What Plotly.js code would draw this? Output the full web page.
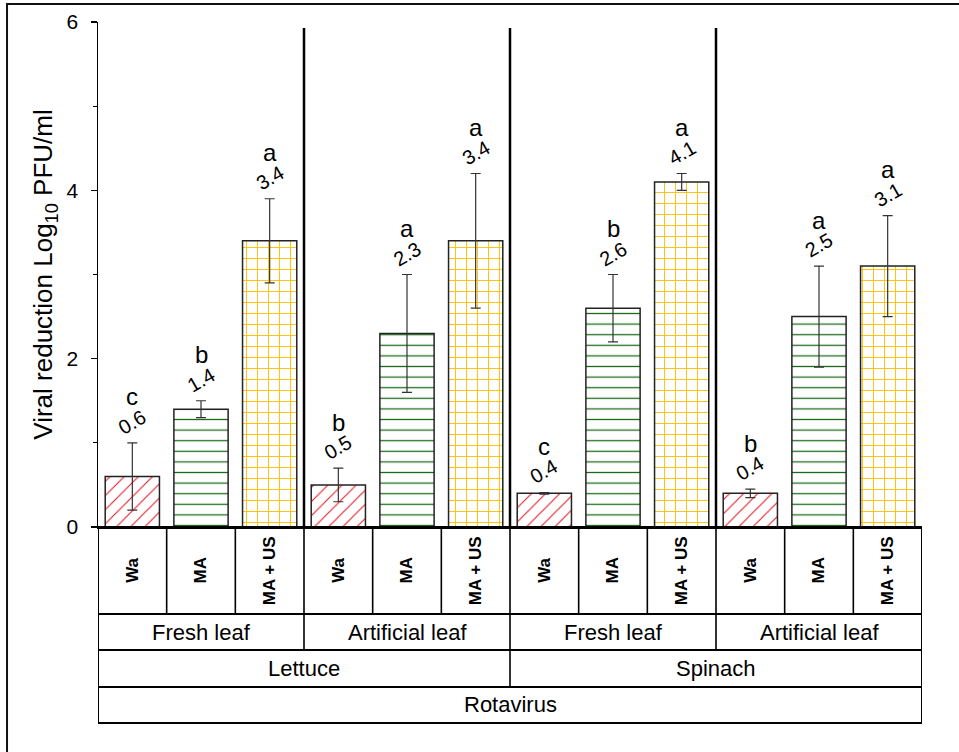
<!DOCTYPE html>
<html>
<head>
<meta charset="utf-8">
<script src="https://cdn.plot.ly/plotly-3.0.1.min.js"></script>
<style>
  html, body { margin: 0; padding: 0; background: #fff; }
  #chart { width: 959px; height: 752px; }
</style>
</head>
<body>
<div id="chart"></div>
<script>
// Viral reduction of rotavirus on lettuce and spinach surfaces by treatment
const treatments = ['Wa', 'MA', 'MA + US'];
const surfaces = ['Fresh leaf', 'Artificial leaf', 'Fresh leaf', 'Artificial leaf'];
const vegetables = ['Lettuce', 'Spinach'];
const virusName = 'Rotavirus';

// one entry per surface group (Lettuce fresh, Lettuce artificial, Spinach fresh, Spinach artificial)
const waMeans  = [0.6, 0.5, 0.4, 0.4];
const waErr    = [0.4, 0.2, 0.01, 0.05];
const maMeans  = [1.4, 2.3, 2.6, 2.5];
const maErr    = [0.1, 0.7, 0.4, 0.6];
const musMeans = [3.4, 3.4, 4.1, 3.1];
const musErr   = [0.5, 0.8, 0.1, 0.6];

const waLetters  = ['c', 'b', 'c', 'b'];
const maLetters  = ['b', 'a', 'b', 'a'];
const musLetters = ['a', 'a', 'a', 'a'];

const yTicks = [0, 2, 4, 6];

const FONT = 'Arial, "Liberation Sans", sans-serif';
const nGroups = surfaces.length;
const nT = treatments.length;

const seriesMeans = [waMeans, maMeans, musMeans];
const seriesErr = [waErr, maErr, musErr];
const seriesLetters = [waLetters, maLetters, musLetters];
const patterns = [
  { shape: '/', fgcolor: '#e3141e', bgcolor: '#ffffff', size: 10, solidity: 0.1 },
  { shape: '-', fgcolor: '#1a6b1a', bgcolor: '#ffffff', size: 10.6, solidity: 0.12 },
  { shape: '+', fgcolor: '#ffbf00', bgcolor: '#ffffff', size: 11, solidity: 0.16 }
];

const traces = [];
const annotations = [];
for (let t = 0; t < nT; t++) {
  const xs = [];
  for (let g = 0; g < nGroups; g++) xs.push(g * nT + t);
  traces.push({
    type: 'bar',
    name: treatments[t],
    x: xs,
    y: seriesMeans[t],
    width: 0.79,
    marker: {
      color: '#ffffff',
      pattern: patterns[t],
      line: { color: '#222222', width: 1.5 }
    },
    error_y: {
      type: 'data',
      array: seriesErr[t],
      visible: true,
      color: '#333333',
      thickness: 1.2,
      width: 5
    },
    hoverinfo: 'x+y'
  });
  for (let g = 0; g < nGroups; g++) {
    const top = seriesMeans[t][g] + seriesErr[t][g];
    annotations.push({
      x: xs[g], y: top, xref: 'x', yref: 'y',
      xanchor: 'center', yanchor: 'middle',
      text: seriesMeans[t][g].toFixed(1),
      showarrow: false, textangle: -30, yshift: 21,
      font: { family: FONT, size: 20, color: '#000' }
    });
    annotations.push({
      x: xs[g], y: top, xref: 'x', yref: 'y',
      xanchor: 'center', yanchor: 'middle',
      text: seriesLetters[t][g],
      showarrow: false, yshift: 46,
      font: { family: FONT, size: 24, color: '#000' }
    });
  }
}

// category table under the plot (row boundaries in paper units)
const rowY = [0, -0.1723, -0.2436, -0.3168, -0.3881];
const shapes = [];
const xMin = -0.5, xMax = nGroups * nT - 0.5;
const line = (x0, y0, x1, y1, w, xref, yref) => shapes.push({
  type: 'line', x0, y0, x1, y1, xref: xref || 'x', yref: yref || 'paper',
  line: { color: '#000', width: w }
});

// horizontal table rules
for (let r = 0; r < rowY.length; r++) line(xMin, rowY[r], xMax, rowY[r], 2);
// outer table sides
line(xMin, 0, xMin, rowY[4], 2);
line(xMax, 0, xMax, rowY[4], 2);
// treatment cells
for (let i = 1; i < nGroups * nT; i++) line(i - 0.5, rowY[0], i - 0.5, rowY[1], 1.6);
// surface cells
for (let g = 1; g < nGroups; g++) line(g * nT - 0.5, rowY[1], g * nT - 0.5, rowY[2], 1.6);
// vegetable cells
for (let v = 1; v < vegetables.length; v++) {
  const xv = v * (nGroups / vegetables.length) * nT - 0.5;
  line(xv, rowY[2], xv, rowY[3], 1.6);
}
// group separators inside the plot
for (let g = 1; g < nGroups; g++) line(g * nT - 0.5, 0, g * nT - 0.5, 5.93, 2.5, 'x', 'y');

// outer frame
shapes.push({
  type: 'rect', xref: 'paper', yref: 'paper',
  x0: -0.1104, x1: 1.08, y0: 1.0356, y1: -0.47,
  line: { color: '#111', width: 2 }, fillcolor: 'rgba(0,0,0,0)'
});

// table labels
const cellText = (x, y, text, size, angle) => annotations.push({
  x, y, xref: 'x', yref: 'paper', xanchor: 'center', yanchor: 'middle',
  text, textangle: angle || 0, showarrow: false,
  font: { family: FONT, size, color: '#000' }
});
for (let g = 0; g < nGroups; g++) {
  for (let t = 0; t < nT; t++) {
    cellText(g * nT + t, (rowY[0] + rowY[1]) / 2, '<b>' + treatments[t] + '</b>', 17, -90);
  }
  cellText(g * nT + (nT - 1) / 2, (rowY[1] + rowY[2]) / 2, surfaces[g], 22);
}
const perVeg = (nGroups / vegetables.length) * nT;
vegetables.forEach((v, i) => {
  cellText(i * perVeg + (perVeg - 1) / 2, (rowY[2] + rowY[3]) / 2, v, 22);
});
cellText((xMin + xMax) / 2, (rowY[3] + rowY[4]) / 2, virusName, 22);

const layout = {
  width: 959, height: 752,
  margin: { l: 98, r: 37, t: 22, b: 225, pad: 0 },
  paper_bgcolor: '#fff', plot_bgcolor: '#fff',
  showlegend: false,
  barmode: 'overlay',
  font: { family: FONT, color: '#000' },
  xaxis: {
    range: [xMin, xMax],
    showticklabels: false, ticks: '', showgrid: false, zeroline: false,
    showline: true, linecolor: '#000', linewidth: 2
  },
  yaxis: {
    range: [0, 6],
    tickvals: yTicks, ticktext: yTicks.map(String),
    ticks: 'outside', ticklen: 6, tickwidth: 1.3, tickcolor: '#000',
    minor: { dtick: 1, ticks: 'outside', ticklen: 4, tickwidth: 1.3, tickcolor: '#000', showgrid: false },
    showline: true, linecolor: '#000', linewidth: 1.5,
    showgrid: false, zeroline: false,
    tickfont: { family: FONT, size: 21, color: '#000' },
    ticklabelstandoff: 8,
    title: {
      text: 'Viral reduction Log<sub>10</sub> PFU/ml',
      font: { family: FONT, size: 26, color: '#000' },
      standoff: 6
    }
  },
  shapes: shapes,
  annotations: annotations
};

Plotly.newPlot('chart', traces, layout, { displayModeBar: false, staticPlot: true });
</script>
</body>
</html>
